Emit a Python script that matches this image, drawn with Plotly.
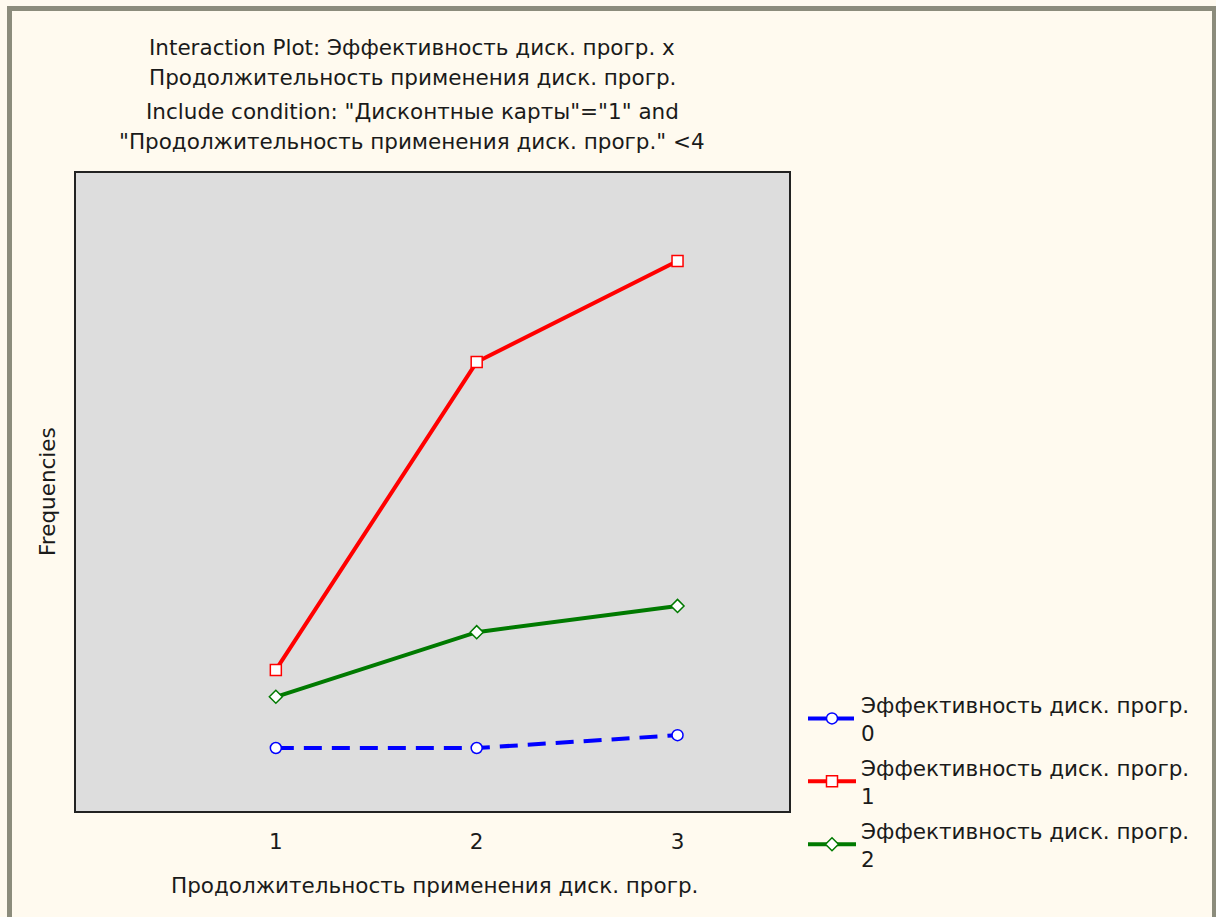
import plotly.graph_objects as go

# ---- data ----
categories = [1, 2, 3]
series_names = ["Эффективность диск. прогр.<br>0",
                "Эффективность диск. прогр.<br>1",
                "Эффективность диск. прогр.<br>2"]
values_0 = [10.0, 10.0, 12.0]
values_1 = [22.2, 70.3, 86.1]
values_2 = [18.0, 28.1, 32.2]

title_lines = ["Interaction Plot: Эффективность диск. прогр. x",
               "Продолжительность применения диск. прогр.",
               "Include condition: \"Дисконтные карты\"=\"1\" and",
               "\"Продолжительность применения диск. прогр.\" <4"]
x_title = "Продолжительность применения диск. прогр."
y_title = "Frequencies"

W, H = 1216, 917
L, R, T, B = 75, 790, 172, 812  # plot area pixel bounds
FONT = "DejaVu Sans"
FS = 21.5
BG = "#fffaef"
TXT = "#1a1a1a"

def px_x(p):
    return (p - L) / (R - L)

def px_y(p):
    return (B - p) / (B - T)

fig = go.Figure()
fig.add_trace(go.Scatter(
    x=categories, y=values_0, name=series_names[0], mode="lines+markers",
    line=dict(color="#0000ff", width=4, dash="18px,10px"),
    marker=dict(symbol="circle", size=11, color="white", line=dict(color="#0000ff", width=1.5)),
    legendgroup="g0"))
fig.add_trace(go.Scatter(
    x=categories, y=values_1, name=series_names[1], mode="lines+markers",
    line=dict(color="#ff0000", width=4),
    marker=dict(symbol="square", size=11, color="white", line=dict(color="#ff0000", width=1.5)),
    legendgroup="g1"))
fig.add_trace(go.Scatter(
    x=categories, y=values_2, name=series_names[2], mode="lines+markers",
    line=dict(color="#007a00", width=4),
    marker=dict(symbol="diamond", size=10, color="white", line=dict(color="#007a00", width=1.5)),
    legendgroup="g2"))

annotations = []
for txt, py in zip(title_lines, [47, 77, 111, 141]):
    annotations.append(dict(text=txt, x=px_x(412), y=px_y(py), xref="paper", yref="paper",
                            xanchor="center", yanchor="middle", showarrow=False,
                            font=dict(family=FONT, size=FS, color=TXT)))
annotations.append(dict(text=y_title, x=px_x(47), y=0.5, xref="paper", yref="paper",
                        xanchor="center", yanchor="middle", textangle=-90, showarrow=False,
                        font=dict(family=FONT, size=FS, color=TXT)))
annotations.append(dict(text=x_title, x=px_x(434), y=px_y(885), xref="paper", yref="paper",
                        xanchor="center", yanchor="middle", showarrow=False,
                        font=dict(family=FONT, size=FS, color=TXT)))

shapes = [
    # outer window frame
    dict(type="rect", xref="paper", yref="paper", layer="below",
         x0=px_x(9.5), x1=px_x(1214.5), y0=px_y(940), y1=px_y(8.5),
         line=dict(color="#8c8c7c", width=5), fillcolor="rgba(0,0,0,0)"),
    # plot frame
    dict(type="rect", xref="paper", yref="paper", x0=0, x1=1, y0=0, y1=1,
         line=dict(color="#222222", width=2), fillcolor="rgba(0,0,0,0)"),
]

fig.update_layout(
    width=W, height=H,
    margin=dict(l=L, r=W - R, t=T, b=H - B, pad=0),
    paper_bgcolor=BG, plot_bgcolor="#dddddd",
    font=dict(family=FONT, size=FS, color=TXT),
    showlegend=True,
    legend=dict(x=px_x(803), y=px_y(684), xanchor="left", yanchor="top",
                bgcolor="rgba(0,0,0,0)", font=dict(family=FONT, size=FS, color=TXT),
                tracegroupgap=4, itemwidth=48),
    annotations=annotations,
    shapes=shapes,
    xaxis=dict(range=[0, 3.56], tickvals=categories, ticktext=[str(c) for c in categories],
               showgrid=False, zeroline=False, showline=False,
               ticks="outside", ticklen=10, tickcolor=BG,
               tickfont=dict(family=FONT, size=FS, color=TXT)),
    yaxis=dict(range=[0, 100], showticklabels=False, showgrid=False, zeroline=False,
               showline=False, ticks=""),
)

fig.write_html("out.html", config={"displayModeBar": False},
               post_script="document.body.style.margin='0';document.body.style.overflow='hidden';")
